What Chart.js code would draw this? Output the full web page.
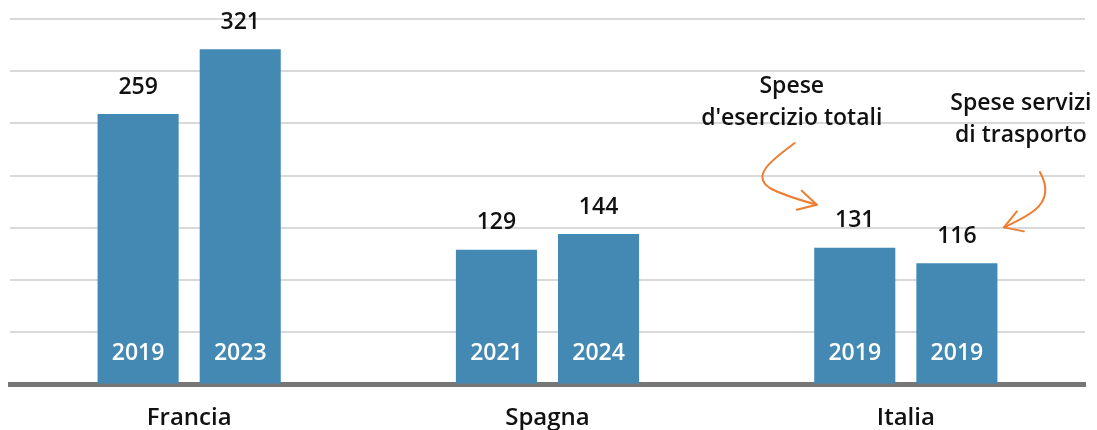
<!DOCTYPE html>
<html>
<head>
<meta charset="utf-8">
<script src="https://cdn.jsdelivr.net/npm/chart.js@4"></script>
<style>
  body { margin: 0; background: #fff; }
</style>
</head>
<body>
<canvas id="grafico" width="1097" height="430"></canvas>
<script>
// dati
var paesi = ['Francia', 'Spagna', 'Italia'];
var valoriPrimo = [259, 129, 131];
var valoriSecondo = [321, 144, 116];
var anniPrimo = ['2019', '2021', '2019'];
var anniSecondo = ['2023', '2024', '2019'];
var tickY = [0, 50, 100, 150, 200, 250, 300, 350];

var coloreBarra = '#4389b4';
var arancio = '#ed7d31';
var fonte = '"Open Sans", "Noto Sans", sans-serif';

// etichette sopra e dentro le barre + frecce di annotazione
const etichette = {
  id: 'etichette',
  afterDatasetsDraw(chart) {
    const c = chart.ctx;
    const yScale = chart.scales.y;
    const anni = [anniPrimo, anniSecondo];
    c.save();
    c.textAlign = 'center';
    c.textBaseline = 'middle';
    chart.data.datasets.forEach((ds, i) => {
      chart.getDatasetMeta(i).data.forEach((bar, j) => {
        c.font = '600 23px ' + fonte;
        c.fillStyle = '#111';
        c.fillText(ds.data[j], bar.x, bar.y - 27);
        c.fillStyle = '#fff';
        c.fillText(anni[i][j], bar.x, yScale.getPixelForValue(0) - 31);
      });
    });

    // note su Italia
    const b1 = chart.getDatasetMeta(0).data[2];
    const b2 = chart.getDatasetMeta(1).data[2];
    c.fillStyle = '#111';
    c.font = '600 23px ' + fonte;
    c.fillText('Spese', b1.x - 63, 86);
    c.fillText("d'esercizio totali", b1.x - 63, 118);
    c.fillText('Spese servizi', b2.x + 64, 103);
    c.fillText('di trasporto', b2.x + 64, 135);

    c.strokeStyle = arancio;
    c.lineWidth = 2;
    c.lineCap = 'round';
    c.lineJoin = 'round';
    // freccia 1
    let tx = b1.x - 38, ty = b1.y - 43;
    c.beginPath();
    c.moveTo(b1.x - 60, 143);
    c.bezierCurveTo(b1.x - 80, 158, b1.x - 105, 175, b1.x - 85, 188);
    c.bezierCurveTo(b1.x - 70, 196, b1.x - 55, 200, tx, ty);
    c.stroke();
    c.beginPath();
    c.moveTo(tx - 15, ty - 14);
    c.lineTo(tx, ty);
    c.lineTo(tx - 20, ty + 5);
    c.stroke();
    // freccia 2
    tx = b2.x + 47; ty = b2.y - 36;
    c.beginPath();
    c.moveTo(b2.x + 83, 172);
    c.bezierCurveTo(b2.x + 92, 188, b2.x + 90, 200, b2.x + 78, 210);
    c.bezierCurveTo(b2.x + 68, 218, b2.x + 58, 222, tx, ty);
    c.stroke();
    c.beginPath();
    c.moveTo(tx + 13, ty - 16);
    c.lineTo(tx, ty);
    c.lineTo(tx + 20, ty + 4);
    c.stroke();
    c.restore();
  }
};

const ctx = document.getElementById('grafico');

const grafico = new Chart(ctx, {
  type: 'bar',
  data: {
    labels: paesi,
    datasets: [{
      data: valoriPrimo,
      backgroundColor: coloreBarra,
      categoryPercentage: 0.57,
      barPercentage: 0.794
    }, {
      data: valoriSecondo,
      backgroundColor: coloreBarra,
      categoryPercentage: 0.57,
      barPercentage: 0.794
    }]
  },
  options: {
    responsive: false,
    animation: false,
    layout: { padding: { left: 10, right: 12, top: 19, bottom: 0 } },
    plugins: {
      legend: { display: false },
      tooltip: { enabled: false }
    },
    scales: {
      x: {
        grid: { display: false, drawTicks: false },
        border: { display: true, color: '#767676', width: 5 },
        afterFit(scale) {
          scale.height = 45.5;
        },
        ticks: {
          padding: 19,
          color: '#111',
          font: { family: fonte, size: 24, weight: '600' }
        }
      },
      y: {
        min: 0,
        max: 350,
        afterBuildTicks(scale) {
          scale.ticks = tickY.map(v => ({ value: v }));
        },
        ticks: { display: false },
        border: { display: false },
        grid: {
          drawTicks: false,
          color: (c) => c.tick && c.tick.value === 0 ? 'rgba(0,0,0,0)' : '#d9d9d9',
          lineWidth: 2
        }
      }
    }
  },
  plugins: [etichette]
});
</script>
</body>
</html>
